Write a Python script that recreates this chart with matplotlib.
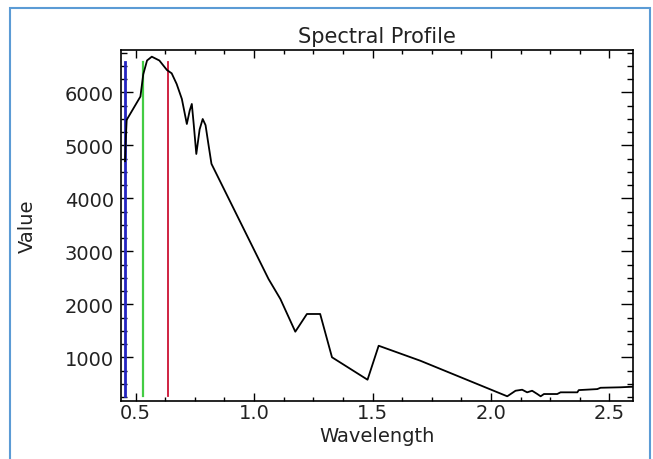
"""Spectral profile plot with band markers."""

import matplotlib
matplotlib.use("Agg")
import matplotlib.pyplot as plt
from matplotlib.patches import Rectangle
from matplotlib.ticker import MultipleLocator, AutoMinorLocator

# traced spectrum vertices
wavelength = [0.455, 0.458, 0.462, 0.52, 0.532, 0.548, 0.568, 0.60, 0.632, 0.652,
              0.673, 0.695, 0.716, 0.728, 0.737, 0.745, 0.756, 0.770, 0.783, 0.795,
              0.807, 0.820, 1.061, 1.111, 1.174, 1.223, 1.279, 1.329, 1.479, 1.526,
              1.702, 2.069, 2.104, 2.132, 2.153, 2.174, 2.196, 2.210, 2.224, 2.280,
              2.294, 2.365, 2.371, 2.449, 2.463, 2.548, 2.600]
value = [4700, 5100, 5480, 5920, 6340, 6600, 6672, 6600, 6420, 6358,
         6157, 5874, 5402, 5653, 5780, 5400, 4836, 5300, 5496, 5380,
         5025, 4650, 2477, 2100, 1483, 1817, 1817, 1000, 577, 1218,
         935, 264, 369, 388, 339, 369, 307, 264, 307, 307,
         339, 339, 381, 400, 425, 434, 445]

# band marker lines (wavelength, colour)
band_wl = [0.455, 0.532, 0.638]
band_colors = ["#2424c0", "#44cc44", "#cc1133"]
band_widths = [2.0, 1.6, 1.3]

fig = plt.figure(figsize=(6.53, 4.60), dpi=100)
fig.patch.set_facecolor("white")

# light blue frame round the image
fig.patches.append(Rectangle((10 / 653, -0.05), 640 / 653, 1.05 - 9 / 460,
                             transform=fig.transFigure, fill=False,
                             edgecolor="#5b9bd5", linewidth=1.5, clip_on=False))

ax = fig.add_axes([121 / 653, 1 - 401.7 / 460, 512 / 653, 350.7 / 460])

vmin, vmax = 276, 6566
for wl, c, lw in zip(band_wl, band_colors, band_widths):
    ax.plot([wl, wl], [vmin, vmax], color=c, linewidth=lw, zorder=2)

ax.plot(wavelength, value, color="black", linewidth=1.3, zorder=3)

ax.set_xlim(0.438, 2.60)
ax.set_ylim(181, 6798)

ax.xaxis.set_major_locator(MultipleLocator(0.5))
ax.xaxis.set_minor_locator(AutoMinorLocator(4))
ax.yaxis.set_major_locator(MultipleLocator(1000))
ax.yaxis.set_minor_locator(AutoMinorLocator(4))
ax.xaxis.set_major_formatter(plt.FuncFormatter(lambda v, p: f"{v:.1f}"))

ax.tick_params(axis="both", which="both", direction="in",
               top=True, right=True, colors="black", labelcolor="#222222",
               labelsize=14, width=1.0)
ax.tick_params(axis="y", which="major", length=8.5, pad=5)
ax.tick_params(axis="y", which="minor", length=4)
ax.tick_params(axis="x", which="major", length=5.5, pad=2)
ax.tick_params(axis="x", which="minor", length=2.8)

for s in ax.spines.values():
    s.set_linewidth(1.2)

ax.set_title("Spectral Profile", fontsize=15, color="#222222", pad=6)
ax.set_xlabel("Wavelength", fontsize=14, color="#222222")
ax.set_ylabel("Value", fontsize=14, color="#222222")
ax.xaxis.set_label_coords(0.5, -(437 - 401.7) / 350.7, transform=ax.transAxes)
ax.yaxis.set_label_coords(-(121 - 27) / 512, 0.5, transform=ax.transAxes)
ax.xaxis.label.set_va("center")
ax.yaxis.label.set_va("center")

fig.savefig("out.png", dpi=100)
